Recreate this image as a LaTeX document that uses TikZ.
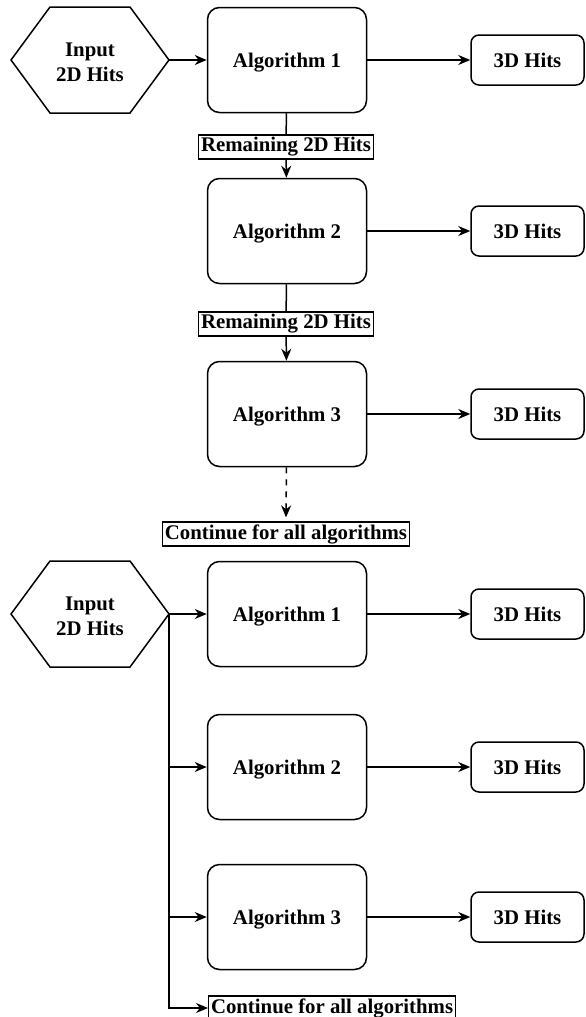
\documentclass[tikz,border=0pt]{standalone}
\usepackage{fontspec}
\setmainfont{Liberation Serif}
\usetikzlibrary{arrows.meta}

\tikzset{
  algo/.style={draw, rounded corners=6pt, minimum width=79.5pt, minimum height=52.5pt, text depth=0pt},
  hits/.style={draw, rounded corners=4pt, minimum width=56.5pt, minimum height=25pt, text depth=0pt},
  tag/.style={draw, line width=0.6pt, inner xsep=1.2pt, inner ysep=0pt, minimum height=12pt},
}

\begin{document}
\begin{tikzpicture}[>={Stealth[length=6pt,width=5pt]}, x=0.5pt, y=-0.5pt,
    line width=0.75pt, font=\fontsize{10.4}{12.5}\selectfont\bfseries]

    \useasboundingbox (0,0) rectangle (585,1017);

    % Hexagons
    \foreach \cy in {60,614}
      \draw (11,\cy) -- (50,\cy-53) -- (130,\cy-53) -- (169,\cy) -- (130,\cy+53) -- (50,\cy+53) -- cycle;

    % Sequential chain
    \node[align=center] (in1) at (90,62) {Input\\2D Hits};
    \coordinate (in1r) at (169,60);

    \node[algo] (a1) at (287,60) {Algorithm 1};
    \node[algo] (a2) at (287,231) {Algorithm 2};
    \node[algo] (a3) at (287,414) {Algorithm 3};

    \node[hits] (h1) at (527.5,60) {3D Hits};
    \node[hits] (h2) at (527.5,231) {3D Hits};
    \node[hits] (h3) at (527.5,414) {3D Hits};

    \node[tag] (r1) at (286,147) {Remaining 2D Hits};
    \node[tag] (r2) at (286,324) {Remaining 2D Hits};
    \node[tag] (c1) at (286,534) {Continue for all algorithms};

    \draw[->] (in1r) -- (a1);
    \draw[->] (a1) -- (h1);
    \draw[->] (a2) -- (h2);
    \draw[->] (a3) -- (h3);
    \draw (a1) -- (r1);
    \draw[->] (r1) -- (a2);
    \draw (a2) -- (r2);
    \draw[->] (r2) -- (a3);
    \draw[->, dashed] (a3) -- ([yshift=2pt]c1.north);

    % Parallel branches
    \node[align=center] (in2) at (90,616) {Input\\2D Hits};
    \coordinate (in2r) at (169,614);

    \node[algo] (b1) at (287,614) {Algorithm 1};
    \node[algo] (b2) at (287,767) {Algorithm 2};
    \node[algo] (b3) at (287,917) {Algorithm 3};

    \node[hits] (g1) at (527.5,614) {3D Hits};
    \node[hits] (g2) at (527.5,767) {3D Hits};
    \node[hits] (g3) at (527.5,917) {3D Hits};

    \node[tag, anchor=west] (c2) at (208,1008) {Continue for all algorithms};

    \draw[->] (in2r) -- (b1);
    \draw[->] (in2r) |- (b2);
    \draw[->] (in2r) |- (b3);
    \draw[->] (in2r) |- (c2);
    \draw[->] (b1) -- (g1);
    \draw[->] (b2) -- (g2);
    \draw[->] (b3) -- (g3);

\end{tikzpicture}
\end{document}
